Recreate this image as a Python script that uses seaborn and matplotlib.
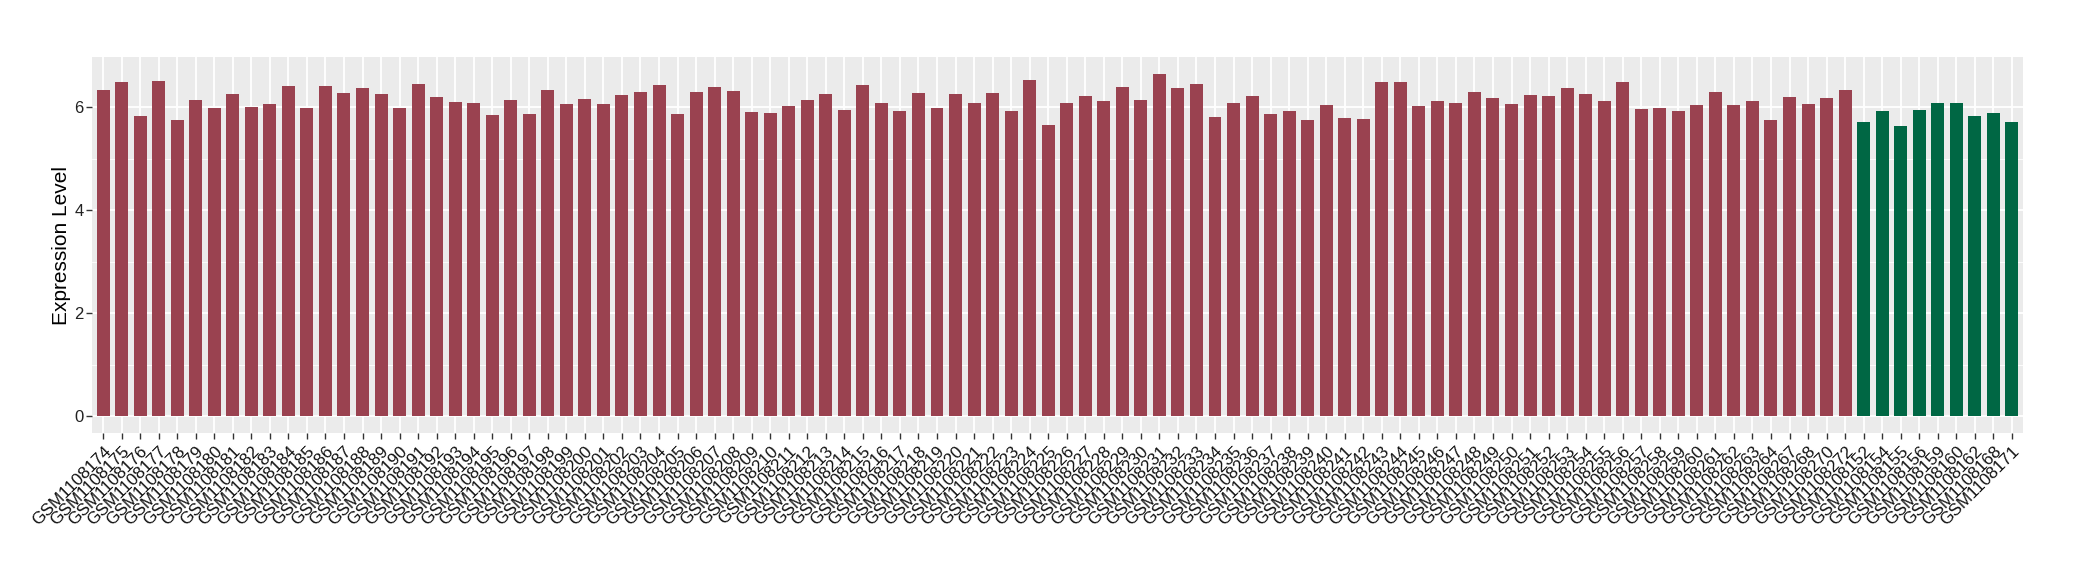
import pandas as pd
import matplotlib.pyplot as plt
import seaborn as sns

# sample ids (red group first, green group last, as in the reference order)
red_ids = [f'GSM1108{n}' for n in range(174, 265)] + ['GSM1108267', 'GSM1108268', 'GSM1108270', 'GSM1108272']
green_ids = ['GSM1108152', 'GSM1108154', 'GSM1108155', 'GSM1108156', 'GSM1108159',
             'GSM1108160', 'GSM1108162', 'GSM1108168', 'GSM1108171']

# expression values
red_values = [6.34, 6.49, 5.83, 6.51, 5.75, 6.14, 5.99, 6.26, 6.01, 6.06,
              6.41, 5.99, 6.41, 6.28, 6.38, 6.26, 5.99, 6.45, 6.20, 6.10,
              6.08, 5.85, 6.14, 5.87, 6.34, 6.06, 6.16, 6.06, 6.24, 6.30,
              6.43, 5.87, 6.30, 6.39, 6.32, 5.91, 5.89, 6.03, 6.14, 6.26,
              5.95, 6.43, 6.08, 5.93, 6.28, 5.99, 6.26, 6.08, 6.28, 5.93,
              6.53, 5.66, 6.08, 6.22, 6.12, 6.39, 6.14, 6.65, 6.38, 6.45,
              5.81, 6.08, 6.22, 5.87, 5.93, 5.75, 6.05, 5.79, 5.77, 6.49,
              6.49, 6.03, 6.12, 6.08, 6.30, 6.18, 6.06, 6.24, 6.22, 6.38,
              6.26, 6.12, 6.49, 5.97, 5.99, 5.93, 6.05, 6.30, 6.05, 6.12,
              5.75, 6.20, 6.06, 6.18, 6.34]
green_values = [5.72, 5.93, 5.64, 5.95, 6.08, 6.08, 5.83, 5.89, 5.72]

df = pd.DataFrame({
    'sample': red_ids + green_ids,
    'value': red_values + green_values,
    'group': ['A'] * len(red_ids) + ['B'] * len(green_ids),
})

plt.rcParams['font.family'] = ['Liberation Sans', 'DejaVu Sans']

fig = plt.figure(figsize=(20.8, 5.8), dpi=100)
ax = fig.add_axes([0.0442, 0.2534, 0.9284, 0.6483])
ax.set_facecolor('#EBEBEB')

sns.barplot(data=df, x='sample', y='value', hue='group', order=df['sample'],
            palette={'A': '#9A4250', 'B': '#006744'}, width=0.7, dodge=False,
            legend=False, saturation=1, ax=ax)

ax.set_xlim(-0.6, len(df) - 0.4)
ax.set_ylim(-0.33, 6.98)
ax.set_yticks([0, 2, 4, 6])
ax.set_yticks([1, 3, 5], minor=True)

# ggplot-like grey theme
ax.set_axisbelow(True)
ax.grid(which='major', color='white', linewidth=1.3)
ax.grid(which='minor', axis='y', color='white', linewidth=0.6)
for s in ax.spines.values():
    s.set_visible(False)
ax.tick_params(which='major', length=4, width=1, color='#333333')
ax.tick_params(which='minor', length=0)
ax.tick_params(axis='y', labelsize=12, labelcolor='#222222', pad=2)
plt.setp(ax.get_xticklabels(), rotation=45, ha='right', va='top',
         rotation_mode='anchor', fontsize=12.3, color='#111111')

ax.set_xlabel('')
ax.set_ylabel('Expression Level', fontsize=15, labelpad=2)

fig.savefig('out.png', dpi=100)
plt.close()
